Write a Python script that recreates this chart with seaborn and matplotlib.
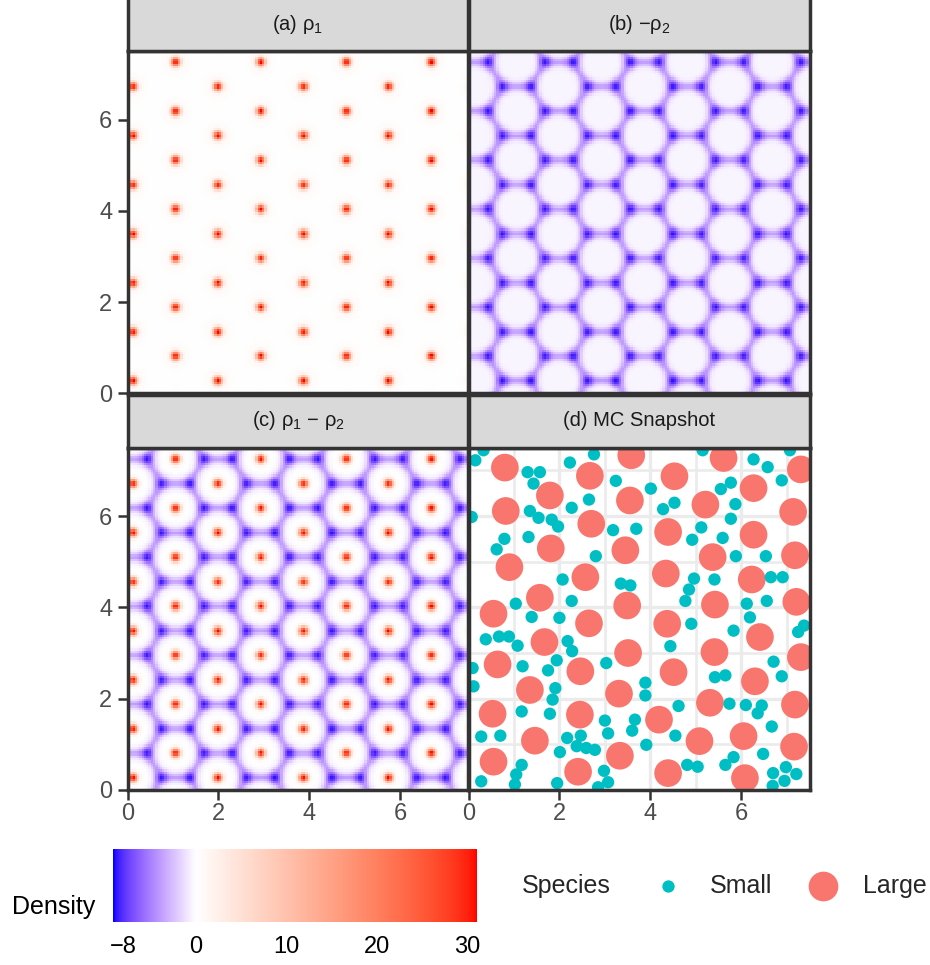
import numpy as np
import pandas as pd
import matplotlib
matplotlib.use("Agg")
import matplotlib.pyplot as plt
import seaborn as sns
from matplotlib.colors import ListedColormap, Normalize
from matplotlib.cm import ScalarMappable

# ---------------------------------------------------------------- data
BOX = 7.5                      # side of the periodic simulation box

# lattice of the large species (hexagonal, one bond vertical)
col_x = [0.11, 1.05, 1.98, 2.92, 3.86, 4.80, 5.73, 6.67]
row_y_even = [0.27, 1.34, 2.41, 3.48, 4.55, 5.63, 6.70]
row_y_odd = [0.81, 1.88, 2.95, 4.02, 5.09, 6.16, 7.24]

# density profile parameters
rho1_peak, rho1_width = 31.0, 0.065
rho1_halo, rho1_halo_width = 1.0, 0.2
rho2_floor = 0.35
rho2_shell, shell_radius, shell_soft = 4.2, 0.48, 0.035
rho2_peak, rho2_width = 4.3, 0.08

density_limits = (-9.1, 31.1)
density_breaks = [-8, 0, 10, 20, 30]
density_labels = ["\u22128", "0", "10", "20", "30"]

# Monte Carlo snapshot
large_x = [0.80, 1.79, 2.67, 3.58, 0.82, 3.55, 2.70, 1.81, 0.90, 3.45, 2.57, 1.57,
           0.55, 3.49, 2.65, 5.61, 4.53, 6.27, 7.31, 5.21, 7.14, 4.39, 6.27, 5.37,
           7.18, 4.34, 6.23, 5.42, 7.21, 4.37, 1.67, 0.64, 2.46, 3.51, 1.35, 3.31,
           0.53, 2.45, 1.46, 3.33, 0.55, 2.41, 6.41, 5.41, 4.51, 6.30, 7.31, 5.31,
           7.18, 4.19, 6.05, 5.08, 7.16, 4.39, 6.08]
large_y = [7.06, 6.45, 6.88, 7.33, 6.11, 6.34, 5.83, 5.29, 4.88, 5.25, 4.66, 4.21,
           3.86, 4.04, 3.65, 7.27, 6.87, 6.61, 7.02, 6.25, 6.09, 5.65, 5.59, 5.10,
           5.14, 4.74, 4.61, 4.06, 4.12, 3.64, 3.24, 2.75, 2.60, 3.00, 2.19, 2.11,
           1.67, 1.65, 1.08, 0.75, 0.62, 0.40, 3.35, 3.02, 2.58, 2.38, 2.91, 1.91,
           1.87, 1.54, 1.18, 1.07, 0.95, 0.37, 0.26]
small_x = [0.33, 0.15, 1.30, 1.57, 1.43, 2.23, 2.76, 3.24, 2.65, 2.27, 1.35, 1.54,
           1.83, 1.97, 0.07, 0.79, 0.62, 1.32, 3.18, 3.69, 2.80, 2.07, 2.27, 1.04,
           3.35, 3.56, 2.00, 1.39,
           5.15, 6.27, 6.58, 7.07, 6.89, 4.01, 5.77, 5.55, 4.53, 4.28, 5.87, 5.77,
           5.12, 4.92, 5.59, 5.88, 6.54, 4.96, 5.41, 4.85, 4.77, 6.65, 6.91, 6.56,
           6.12,
           0.38, 0.67, 0.89, 1.08, 2.18, 2.28, 1.94, 1.75, 1.19, 0.09, 0.11, 3.03,
           1.91, 1.85, 1.17, 1.79, 3.00, 3.07, 3.66, 3.60, 0.28, 0.70, 2.17, 2.47,
           2.38, 2.59, 2.78, 2.01, 1.17, 1.05, 1.02, 0.28, 1.95, 2.98, 3.07, 2.85,
           4.90, 5.83, 6.19, 7.25, 7.38, 4.44, 6.71, 6.89, 5.42, 5.65, 3.89, 3.89,
           4.62, 5.74, 6.10, 6.45, 6.36, 6.67, 4.55, 3.91, 6.48, 5.83, 5.65, 4.81,
           5.04, 6.98, 7.21, 6.70, 6.95, 6.69]
small_y = [7.44, 7.22, 6.96, 6.96, 6.71, 7.17, 7.35, 6.77, 6.36, 6.18, 6.11, 5.96,
           5.92, 5.77, 5.98, 5.50, 5.27, 5.54, 5.69, 5.72, 5.12, 4.61, 4.14, 4.08,
           4.52, 4.48, 3.77, 3.79,
           7.44, 7.24, 7.07, 7.44, 6.78, 6.60, 6.73, 6.59, 6.29, 6.15, 6.26, 5.94,
           5.75, 5.48, 5.52, 5.12, 5.12, 4.63, 4.61, 4.39, 4.14, 4.66, 4.66, 4.14,
           4.08,
           3.30, 3.36, 3.36, 3.16, 3.26, 3.04, 2.84, 2.62, 2.71, 2.67, 2.27, 2.78,
           2.23, 1.98, 1.72, 1.67, 1.52, 1.24, 1.54, 1.30, 1.17, 1.19, 1.14, 1.19,
           0.96, 0.92, 0.88, 0.83, 0.55, 0.34, 0.12, 0.19, 0.15, 0.42, 0.17, 0.06,
           3.64, 3.49, 3.78, 3.46, 3.60, 3.15, 2.81, 2.49, 2.47, 2.51, 2.35, 2.07,
           1.84, 1.89, 1.86, 1.85, 1.68, 1.39, 1.19, 0.99, 0.79, 0.72, 0.55, 0.55,
           0.51, 0.50, 0.35, 0.37, 0.20, 0.09]

panel_titles = ["(a) \u03c1$_1$", "(b) \u2212\u03c1$_2$",
                "(c) \u03c1$_1$ \u2212 \u03c1$_2$", "(d) MC Snapshot"]
species_colors = {"Small": "#00BFC4", "Large": "#F8766D"}
species_sizes = {"Small": 79, "Large": 397}

# ---------------------------------------------------------------- fields
def column_rows(k):
    return row_y_even if k % 2 == 0 else row_y_odd

large_sites = np.array([(x, y) for k, x in enumerate(col_x) for y in column_rows(k)])

# interstitial (triangle centre) sites between neighbouring columns
inter = []
for k, xc in enumerate(col_x):
    kn = (k + 1) % len(col_x)
    xn = col_x[kn] + (BOX if kn == 0 else 0.0)
    step = xn - xc
    for y in column_rows(kn):
        inter.append((xc + step / 3, y))
    for y in column_rows(k):
        inter.append((xc + 2 * step / 3, y))
inter_sites = np.array(inter)

n_grid = 150
centres = (np.arange(n_grid) + 0.5) * BOX / n_grid
GX, GY = np.meshgrid(centres, centres)


def sq_dist(sites):
    dx = GX[None] - sites[:, 0, None, None]
    dy = GY[None] - sites[:, 1, None, None]
    dx -= BOX * np.round(dx / BOX)
    dy -= BOX * np.round(dy / BOX)
    return dx ** 2 + dy ** 2


d2_large = sq_dist(large_sites)
d2_inter = sq_dist(inter_sites)
d_min = np.sqrt(d2_large.min(axis=0))

rho1 = (rho1_peak * np.exp(-d2_large / (2 * rho1_width ** 2)).sum(axis=0)
        + rho1_halo * np.exp(-d2_large / (2 * rho1_halo_width ** 2)).sum(axis=0))
rho2 = (rho2_floor
        + rho2_shell / (1 + np.exp(-(d_min - shell_radius) / shell_soft))
        + rho2_peak * np.exp(-d2_inter / (2 * rho2_width ** 2)).sum(axis=0))
fields = [rho1, -rho2, rho1 - rho2]

# ---------------------------------------------------------------- colours (Lab ramp)
_M = np.array([[0.4124564, 0.3575761, 0.1804375],
               [0.2126729, 0.7151522, 0.0721750],
               [0.0193339, 0.1191920, 0.9503041]])
_WP = np.array([0.95047, 1.0, 1.08883])


def to_lab(rgb):
    c = np.asarray(rgb, float)
    lin = np.where(c <= 0.04045, c / 12.92, ((c + 0.055) / 1.055) ** 2.4)
    t = (_M @ lin) / _WP
    f = np.where(t > (6 / 29) ** 3, np.cbrt(t), t / (3 * (6 / 29) ** 2) + 4 / 29)
    return np.array([116 * f[1] - 16, 500 * (f[0] - f[1]), 200 * (f[1] - f[2])])


def from_lab(lab):
    fy = (lab[..., 0] + 16) / 116
    fx = fy + lab[..., 1] / 500
    fz = fy - lab[..., 2] / 200
    f = np.stack([fx, fy, fz], axis=-1)
    xyz = np.where(f > 6 / 29, f ** 3, 3 * (6 / 29) ** 2 * (f - 4 / 29)) * _WP
    lin = xyz @ np.linalg.inv(_M).T
    lin = np.clip(lin, 0, 1)
    return np.clip(np.where(lin <= 0.0031308, 12.92 * lin,
                            1.055 * lin ** (1 / 2.4) - 0.055), 0, 1)


lo, hi = density_limits
lab_blue, lab_white, lab_red = to_lab([0, 0, 1]), to_lab([1, 1, 1]), to_lab([1, 0, 0])
v = np.linspace(lo, hi, 600)
frac = np.where(v < 0, v / lo, v / hi)[:, None]
target = np.where((v < 0)[:, None], lab_blue, lab_red)
density_cmap = ListedColormap(from_lab(lab_white + frac * (target - lab_white)))
density_norm = Normalize(lo, hi)

# ---------------------------------------------------------------- figure
sns.set_theme(style="white")
plt.rcParams["font.family"] = ["Liberation Sans", "DejaVu Sans"]
plt.rcParams["mathtext.fontset"] = "custom"
plt.rcParams["mathtext.rm"] = "Liberation Sans"
plt.rcParams["mathtext.it"] = "Liberation Sans:italic"

W, H = 930, 965
fig = plt.figure(figsize=(W / 100, H / 100), dpi=100)
fig.patch.set_facecolor("white")


def frame(x0, y0, x1, y1):
    return [x0 / W, 1 - y1 / H, (x1 - x0) / W, (y1 - y0) / H]


DARK = "#333333"
BORDER = 2.5
TICK_SIZE = 17
LEGEND_SIZE = 18
xs_edges = [(127.5, 468.5), (468.5, 809.5)]
ys_edges = [(51.0, 393.5), (447.5, 790.0)]
strip_h = 53.0

axes = []
for r, (y0, y1) in enumerate(ys_edges):
    for c, (x0, x1) in enumerate(xs_edges):
        idx = 2 * r + c
        ax = fig.add_axes(frame(x0, y0, x1, y1))
        ax.set_xlim(0, BOX)
        ax.set_ylim(0, BOX)
        ax.set_facecolor("white")
        for sp in ax.spines.values():
            sp.set_color(DARK)
            sp.set_linewidth(BORDER)
            sp.set_zorder(5)
        ax.set_xticks([0, 2, 4, 6])
        ax.set_yticks([0, 2, 4, 6])
        ax.tick_params(axis="both", which="major", length=7, width=1.8, color=DARK,
                       labelsize=TICK_SIZE, labelcolor="#4D4D4D",
                       bottom=(r == 1), labelbottom=(r == 1),
                       left=(c == 0), labelleft=(c == 0))
        ax.tick_params(axis="y", pad=4)
        ax.tick_params(axis="x", pad=2)
        ax.set_xticklabels(["0", "2", "4", "6"])
        ax.set_yticklabels(["0", "2", "4", "6"])

        sax = fig.add_axes(frame(x0, y0 - strip_h, x1, y0))
        sax.set_facecolor("#D9D9D9")
        sax.set_xticks([])
        sax.set_yticks([])
        for sp in sax.spines.values():
            sp.set_color(DARK)
            sp.set_linewidth(BORDER)
        sax.text(0.5, 0.5, panel_titles[idx], transform=sax.transAxes,
                 ha="center", va="center", fontsize=14.5, color="#1A1A1A")
        axes.append(ax)

for ax, field in zip(axes[:3], fields):
    ax.imshow(field, origin="lower", extent=[0, BOX, 0, BOX], cmap=density_cmap,
              norm=density_norm, interpolation="nearest", aspect="auto", zorder=1)

# MC snapshot panel
ax_d = axes[3]
ax_d.set_xticks([1, 3, 5, 7], minor=True)
ax_d.set_yticks([1, 3, 5, 7], minor=True)
ax_d.tick_params(which="minor", length=0)
ax_d.grid(which="major", color="#EBEBEB", linewidth=2.4)
ax_d.grid(which="minor", color="#EBEBEB", linewidth=1.9)
ax_d.set_axisbelow(True)
snap = pd.DataFrame({
    "x": large_x + small_x,
    "y": large_y + small_y,
    "Species": ["Large"] * len(large_x) + ["Small"] * len(small_x),
})
sns.scatterplot(data=snap, x="x", y="y", hue="Species", size="Species",
                sizes=species_sizes, palette=species_colors, linewidth=0,
                legend=False, ax=ax_d, zorder=3)
ax_d.set_xlabel("")
ax_d.set_ylabel("")
ax_d.set_xlim(0, BOX)
ax_d.set_ylim(0, BOX)

# ---------------------------------------------------------------- legends
cax = fig.add_axes(frame(113.3, 849, 477, 922))
cb = fig.colorbar(ScalarMappable(norm=density_norm, cmap=density_cmap), cax=cax,
                  orientation="horizontal")
cb.outline.set_visible(False)
cb.minorticks_off()
cb.set_ticks(density_breaks)
cb.set_ticklabels(density_labels)
cax.tick_params(axis="x", which="major", direction="in", length=10, width=1.0,
                color="white", top=True, bottom=True, labelcolor="black",
                labelsize=TICK_SIZE, pad=10)
fig.text(12 / W, 1 - 907 / H, "Density", ha="left", va="center",
         fontsize=LEGEND_SIZE, color="black")

leg = fig.add_axes([0, 0, 1, 1])
leg.set_xlim(0, W)
leg.set_ylim(H, 0)
leg.axis("off")
leg.patch.set_alpha(0)
fig.text(522 / W, 1 - 886 / H, "Species", ha="left", va="center",
         fontsize=LEGEND_SIZE)
leg.scatter([668], [886], s=species_sizes["Small"], color=species_colors["Small"],
            linewidth=0)
fig.text(710 / W, 1 - 886 / H, "Small", ha="left", va="center",
         fontsize=LEGEND_SIZE)
leg.scatter([823], [886], s=species_sizes["Large"] * 1.15,
            color=species_colors["Large"], linewidth=0)
fig.text(863 / W, 1 - 886 / H, "Large", ha="left", va="center",
         fontsize=LEGEND_SIZE)

fig.savefig("out.png", dpi=100, facecolor="white")
